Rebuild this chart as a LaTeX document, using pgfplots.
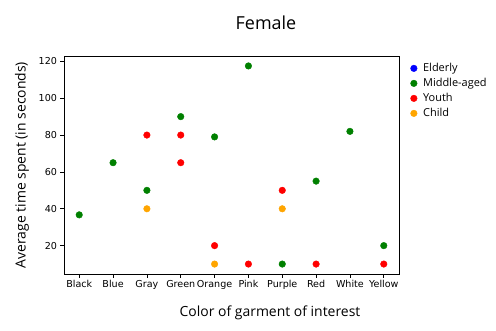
\documentclass[border=0pt]{standalone}
\usepackage{fontspec}
\setmainfont{Open Sans}
\newfontfamily\tickfont{DejaVu Sans}
\usepackage{pgfplots}
\pgfplotsset{compat=1.18}
\definecolor{mgreen}{RGB}{0,128,0}
\definecolor{mred}{RGB}{255,0,0}
\definecolor{morange}{RGB}{255,165,0}
\definecolor{mblue}{RGB}{0,0,255}

\begin{document}
\begin{tikzpicture}[x=1bp,y=1bp]
\path[use as bounding box] (-64,-56) rectangle (432,274);
\begin{axis}[
  at={(0,0)}, anchor=south west,
  scale only axis,
  width=335bp, height=218bp,
  xmin=-0.45, xmax=9.45,
  ymin=4.6, ymax=122.9,
  xtick={0,...,9},
  xticklabels={Black,Blue,Gray,Green,Orange,Pink,Purple,Red,White,Yellow},
  ytick={20,40,60,80,100,120},
  tick align=outside,
  tick pos=left,
  major tick length=3.5bp,
  tick style={black, line width=0.6pt},
  axis line style={black, line width=0.6pt},
  ticklabel style={font=\tickfont\fontsize{9.6}{11}\selectfont},
  /pgf/number format/assume math mode=true,
  xticklabel style={yshift=1pt},
  legend style={draw=none, fill=none, at={(1.025,0.985)}, anchor=north west,
    font=\fontsize{11}{13}\selectfont, row sep=1.2pt,
    /tikz/every odd column/.append style={column sep=4pt}},
  legend cell align=left,
]
\addlegendimage{only marks, mark=*, mark size=3.3bp, color=mblue}
\addlegendentry{Elderly}
% Middle-aged
\addplot[only marks, mark=*, mark size=3.3bp, color=mgreen] coordinates {
  (0,36.7) (1,65) (2,50) (3,90) (4,79) (5,117.5) (6,10) (7,55) (8,82) (9,20)};
\addlegendentry{Middle-aged}
% Youth
\addplot[only marks, mark=*, mark size=3.3bp, color=mred] coordinates {
  (2,80) (3,80) (3,65) (4,20) (5,10) (6,50) (7,10) (9,10)};
\addlegendentry{Youth}
% Child
\addplot[only marks, mark=*, mark size=3.3bp, color=morange] coordinates {
  (2,40) (4,10) (6,40)};
\addlegendentry{Child}
\end{axis}
\node[font=\fontsize{18}{21}\selectfont] at (202,251) {Female};
\node[font=\fontsize{14}{17}\selectfont] at (206,-39) {Color of garment of interest};
\node[font=\fontsize{14}{17}\selectfont, rotate=90] at (-42,109) {Average time spent (in seconds)};
\end{tikzpicture}
\end{document}
